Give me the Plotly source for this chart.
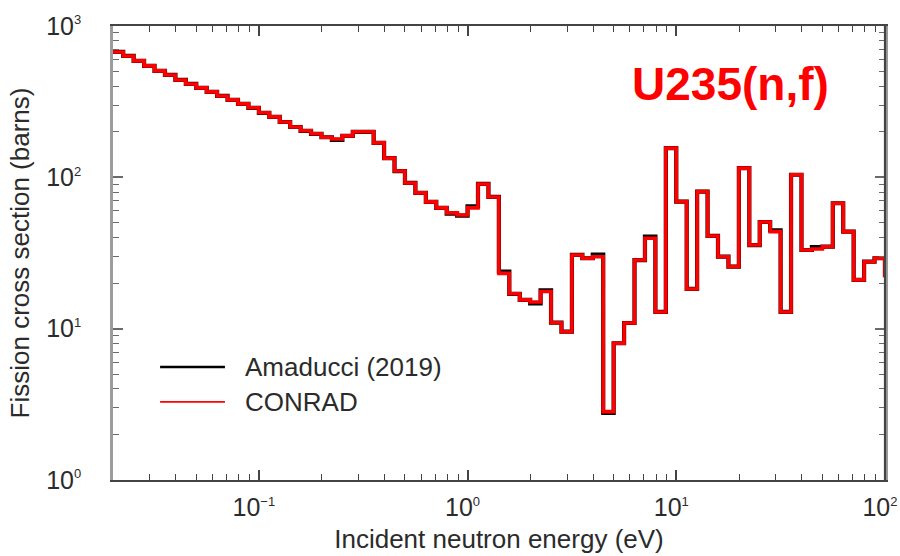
import numpy as np
import plotly.graph_objects as go

# Energy group structure: 20 groups per decade (eV), group k spans 10^(k/20) .. 10^((k+1)/20)
group_index = list(range(-34, 41))
edges = [10 ** (k / 20) for k in group_index] + [10 ** (41 / 20)]

# CONRAD group-averaged U-235 fission cross section (barns)
conrad = [
    674, 634, 588, 545, 505, 475, 440, 414, 390, 367,
    345, 325, 306, 288, 267, 251, 232, 215, 203, 194,
    184, 179, 188, 200, 200, 169, 134, 110, 91.8, 78.9,
    68.8, 62.8, 58.2, 56.4, 62.8, 90.4, 74.2, 23.2, 17.0, 15.5,
    15.0, 17.6, 10.95, 9.55, 30.7, 29.2, 29.9, 2.83, 8.01, 10.9,
    28.4, 39.6, 12.9, 156, 69.1, 18.3, 80.4, 41.0, 29.9, 25.7,
    115, 35.7, 50.7, 43.8, 12.9, 104, 33.1, 33.6, 34.8, 67.4,
    43.8, 21.0, 27.7, 29.2, 22.6,
]

# Amaducci (2019) evaluation on the same groups (barns)
amaducci = [
    674, 634, 588, 545, 505, 475, 440, 414, 390, 367,
    345, 325, 306, 288, 267, 251, 232, 215, 203, 194,
    184, 177, 188, 200, 200, 169, 134, 110, 91.8, 78.9,
    68.8, 62.8, 57.6, 55.8, 64.3, 90.4, 74.2, 23.8, 17.0, 15.5,
    14.7, 17.9, 10.95, 9.55, 30.7, 29.2, 30.9, 2.78, 8.01, 10.9,
    28.4, 40.6, 12.9, 156, 69.1, 18.3, 80.4, 41.0, 29.9, 25.7,
    115, 35.7, 50.7, 44.6, 12.9, 104, 33.1, 34.6, 34.8, 67.4,
    43.8, 21.0, 27.7, 29.2, 22.6,
]


def power_label(exp):
    """Decade label: a large '10' with a small superscript exponent."""
    return "10<sup><span style='font-size:13px'>%s</span></sup>" % exp


x_tickvals = [0.1, 1, 10, 100]
x_ticktext = [power_label("\u22121"), power_label("0"), power_label("1"), power_label("2")]
y_tickvals = [1, 10, 100, 1000]
y_ticktext = [power_label("0"), power_label("1"), power_label("2"), power_label("3")]

FONT = "Liberation Sans, Arial, Helvetica, sans-serif"
TEXT = "#2b2b2b"
AXIS = "#444444"
LEFT_AXIS = "#9c9c9c"

fig = go.Figure()
fig.add_trace(go.Scatter(
    x=edges, y=amaducci + [amaducci[-1]], mode="lines", line_shape="hv",
    line=dict(color="black", width=4.2), name="Amaducci (2019)", showlegend=False,
))
fig.add_trace(go.Scatter(
    x=edges, y=conrad + [conrad[-1]], mode="lines", line_shape="hv",
    line=dict(color="#ff0000", width=3.6), name="CONRAD", showlegend=False,
))

common_axis = dict(
    type="log", showline=True, mirror="ticks",
    ticks="inside", ticklen=10, tickwidth=1.5,
    showgrid=False, zeroline=False, ticklabeloverflow="allow", automargin=False,
    tickfont=dict(family=FONT, size=25, color=TEXT),
)

fig.update_xaxes(
    **common_axis, range=[np.log10(0.02), 2.0002],
    linewidth=2, linecolor=AXIS, tickcolor=AXIS,
    minor=dict(ticks="inside", ticklen=6, tickwidth=1.2, tickcolor=AXIS,
               dtick="D1", showgrid=False),
    tickmode="array", tickvals=x_tickvals, ticktext=x_ticktext,
    ticklabelstandoff=4, ticklabelshift=-5,
    title=dict(text="Incident neutron energy (eV)", standoff=10,
               font=dict(family=FONT, size=26, color=TEXT)),
)
fig.update_yaxes(
    **common_axis, range=[0, 3],
    linewidth=2.6, linecolor=LEFT_AXIS, tickcolor="#6a6a6a",
    minor=dict(ticks="inside", ticklen=6, tickwidth=1.2, tickcolor="#6a6a6a",
               dtick="D1", showgrid=False),
    tickmode="array", tickvals=y_tickvals, ticktext=y_ticktext,
    ticklabelstandoff=24,
    title=dict(text="Fission cross section (barns)", standoff=10,
               font=dict(family=FONT, size=26, color=TEXT)),
)

# Darker right-hand frame edge
fig.add_shape(type="line", xref="paper", yref="paper", x0=1, x1=1, y0=0, y1=1,
              line=dict(color=AXIS, width=2.2))

# Hand-drawn legend box contents
legend_items = [("Amaducci (2019)", "black", 2.6, 0.249), ("CONRAD", "#ff0000", 1.6, 0.172)]
for label, color, width, ypos in legend_items:
    fig.add_shape(type="line", xref="paper", yref="paper",
                  x0=0.061, x1=0.145, y0=ypos, y1=ypos,
                  line=dict(color=color, width=width))
    fig.add_annotation(x=0.168, y=ypos, xref="paper", yref="paper",
                       text=label, showarrow=False, xanchor="left", yanchor="middle",
                       font=dict(family=FONT, size=26, color=TEXT))

fig.add_annotation(x=0.8005, y=0.872, xref="paper", yref="paper",
                   text="<b>U235(n,f)</b>", showarrow=False,
                   xanchor="center", yanchor="middle",
                   font=dict(family=FONT, size=46, color="#ff0000"))

fig.update_layout(
    width=900, height=556,
    margin=dict(l=113, r=15, t=26, b=76, autoexpand=False),
    paper_bgcolor="white", plot_bgcolor="white",
    font=dict(family=FONT, color=TEXT),
    showlegend=False,
)

fig.write_html("out.html")
